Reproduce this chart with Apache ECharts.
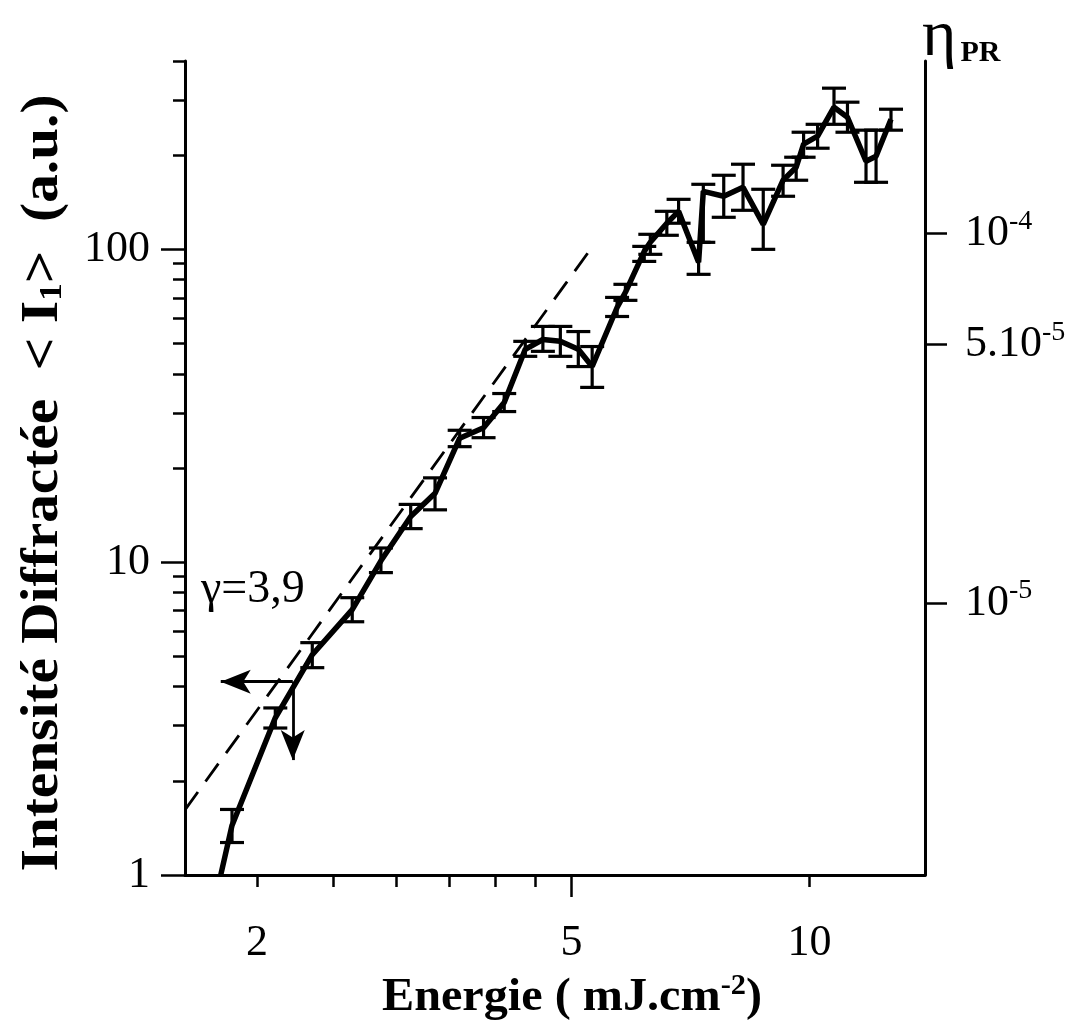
<!DOCTYPE html>
<html><head><meta charset="utf-8">
<script src="https://cdn.jsdelivr.net/npm/echarts@6/dist/echarts.min.js"></script>
<style>html,body{margin:0;padding:0;background:#fff}#c{width:1073px;height:1023px}</style>
</head><body><div id="c"></div>
<script>
// ---- data ----
const energy    = [1.80,1.86,2.11,2.35,2.64,2.87,3.13,3.36,3.61,3.87,4.11,4.37,4.60,4.84,5.10,5.31,5.71,5.85,6.18,6.29,6.60,6.83,7.24,7.34,7.79,8.24,8.74,9.26,9.62,9.83,10.24,10.74,11.17,11.79,12.14,12.68];
const intensity = [1.00,1.44,3.18,5.06,7.05,10.1,14.0,16.6,24.9,26.9,32.4,47.9,51.5,50.8,47.9,42.2,65.2,72.9,98.5,105.3,121.2,132.3,90.9,153.3,147.8,157.9,120.2,166.3,183,216.8,230,284.7,264.5,191.2,198.5,260.6];
const errLow    = [null,1.27,2.95,4.60,6.45,9.26,12.8,14.7,23.4,25.0,30.3,45.5,47.2,45.5,42.2,36.2,61.0,68.7,91.5,96.4,110.9,121.2,83.2,105.3,126.6,133.3,100,147.8,166.3,197,210.5,251,236.8,163.8,163.8,240.4];
const errHigh   = [null,1.62,3.42,5.53,7.70,11.1,15.3,18.6,26.4,29.0,34.6,50.8,56.7,56.7,54.6,48.9,70.2,77.3,102.2,111.7,132.3,144.5,105.3,161.4,172.5,187.1,155.6,185.7,197,236.8,251,327.5,295.4,240.4,240.4,280.5];

const fitEnergy    = [1.622, 5.25];   // dashed power-law guide (gamma = 3.9)
const fitIntensity = [1.615, 97.8];

const arrowCorner = [2.22, 4.15];
const arrowLeftEnd = [1.80, 4.15];
const arrowDownEnd = [2.22, 2.33];

const xRange = [1.622, 14.0];
const yRange = [1, 400];
const etaRange = [1.84e-6, 2.92e-4];

const xLabelValues = [2, 5, 10];
const xMajorTicks = [5];
const xMinorTicks = [2, 2.5, 3, 3.5, 4, 4.5, 10];
const yLabelValues = [1, 10, 100];
const yMinorTicks = [2,3,4,5,6,7,8,9,20,30,40,50,60,70,80,90,200,300,400];
const etaTickValues = [1e-5, 5e-5, 1e-4];
const etaTickMant = ['10', '5.10', '10'];
const etaTickExp  = ['-5', '-5', '-4'];

// ---- chart ----
const FONT = '"Liberation Serif", "Times New Roman", serif';
const chart = echarts.init(document.getElementById('c'), null, {renderer: 'canvas'});

const curve = energy.map((e, i) => [e, intensity[i]]);
const bars = [];
energy.forEach((e, i) => { if (errLow[i] != null) bars.push([e, intensity[i], errLow[i], errHigh[i]]); });
const fit = fitEnergy.map((e, i) => [e, fitIntensity[i]]);

function measure(text, font) {
  const c = document.createElement('canvas').getContext('2d');
  c.font = font; return c.measureText(text).width;
}
const yTitleFont = 'bold 52px ' + FONT;
const ySubFont = 'bold 32px ' + FONT;
const yTitleW = measure('Intensité Diffractée  < I', yTitleFont) + measure('1', ySubFont) + measure('>  (a.u.)', yTitleFont);
const yTitleScale = 777 / yTitleW;
const xTitleFont = 'bold 46px ' + FONT;
const xSubFont = 'bold 29px ' + FONT;
const xTitleW = measure('Energie ( mJ.cm', xTitleFont) + measure('-2', xSubFont) + measure(')', xTitleFont);
const xTitleScale = 380 / xTitleW;

const axisLine = {show: true, lineStyle: {color: '#000', width: 3}};
const baseLog = {type: 'log', logBase: 10, splitLine: {show: false}};

const option = {
  animation: false,
  backgroundColor: '#fff',
  grid: {left: 185, right: 148, top: 61, bottom: 148, containLabel: false, outerBoundsMode: 'none'},
  xAxis: [
    Object.assign({}, baseLog, {
      min: xRange[0], max: xRange[1], position: 'bottom',
      axisLine: axisLine,
      axisTick: {show: true, customValues: xMajorTicks, length: 22, lineStyle: {color: '#000', width: 2.5}},
      axisLabel: {show: true, customValues: xLabelValues, margin: 46, color: '#000',
        fontFamily: FONT, fontSize: 44, formatter: v => String(Math.round(v * 10) / 10)}
    }),
    Object.assign({}, baseLog, {
      min: xRange[0], max: xRange[1], position: 'bottom',
      axisLine: {show: false},
      axisTick: {show: true, customValues: xMinorTicks, length: 12, lineStyle: {color: '#000', width: 2.5}},
      axisLabel: {show: false}
    })
  ],
  yAxis: [
    Object.assign({}, baseLog, {
      min: yRange[0], max: yRange[1], position: 'left',
      axisLine: axisLine,
      axisTick: {show: true, customValues: yLabelValues, length: 24, lineStyle: {color: '#000', width: 2.5}},
      axisLabel: {show: true, customValues: yLabelValues, margin: 35, color: '#000',
        fontFamily: FONT, fontSize: 44, formatter: v => String(Math.round(v))}
    }),
    Object.assign({}, baseLog, {
      min: yRange[0], max: yRange[1], position: 'left',
      axisLine: {show: false},
      axisTick: {show: true, customValues: yMinorTicks, length: 12, lineStyle: {color: '#000', width: 2.5}},
      axisLabel: {show: false}
    }),
    Object.assign({}, baseLog, {
      min: etaRange[0], max: etaRange[1], position: 'right',
      axisLine: axisLine,
      axisTick: {show: true, customValues: etaTickValues, length: 22, lineStyle: {color: '#000', width: 2.5}},
      axisLabel: {show: true, customValues: etaTickValues, margin: 40, color: '#000',
        fontFamily: FONT, fontSize: 44,
        formatter: v => {
          let best = 0, bd = Infinity;
          etaTickValues.forEach((t, i) => { const d = Math.abs(Math.log10(t) - Math.log10(v)); if (d < bd) { bd = d; best = i; } });
          return '{n|' + etaTickMant[best] + '}{s|' + etaTickExp[best] + '}';
        },
        rich: {
          n: {fontFamily: FONT, fontSize: 44, color: '#000'},
          s: {fontFamily: FONT, fontSize: 28, color: '#000', padding: [0, 0, 24, 0]}
        }
      }
    })
  ],
  series: [
    {
      type: 'line', name: 'fit', xAxisIndex: 0, yAxisIndex: 0, data: fit,
      showSymbol: false, symbol: 'none', silent: true,
      lineStyle: {color: '#000', width: 2.8, type: [22, 13]}
    },
    {
      type: 'line', name: 'I1', xAxisIndex: 0, yAxisIndex: 0, data: curve,
      showSymbol: false, symbol: 'none', silent: true,
      lineStyle: {color: '#000', width: 5.5}, z: 3,
      markLine: {
        silent: true, symbol: ['none', 'arrow'], symbolSize: [18, 30],
        label: {show: false},
        lineStyle: {color: '#000', width: 2.8, type: 'solid'},
        data: [
          [{coord: arrowCorner}, {coord: arrowLeftEnd}],
          [{coord: arrowCorner}, {coord: arrowDownEnd}]
        ]
      }
    },
    {
      type: 'custom', name: 'err', xAxisIndex: 0, yAxisIndex: 0, data: bars,
      encode: {x: 0, y: 1}, silent: true, z: 4,
      renderItem: (params, api) => {
        const x = api.value(0);
        const lo = api.coord([x, api.value(2)]);
        const hi = api.coord([x, api.value(3)]);
        const hw = 12;
        const st = {stroke: '#000', lineWidth: 3.2};
        return {type: 'group', children: [
          {type: 'line', shape: {x1: lo[0], y1: lo[1], x2: hi[0], y2: hi[1]}, style: st},
          {type: 'line', shape: {x1: lo[0] - hw, y1: lo[1], x2: lo[0] + hw, y2: lo[1]}, style: st},
          {type: 'line', shape: {x1: hi[0] - hw, y1: hi[1], x2: hi[0] + hw, y2: hi[1]}, style: st}
        ]};
      }
    }
  ],
  graphic: [
    {
      type: 'text', x: 44, y: 483, rotation: Math.PI / 2, scaleX: yTitleScale, scaleY: 1,
      style: {
        text: '{a|Intensité Diffractée  < I}{b|1}{a|>  (a.u.)}',
        rich: {
          a: {font: yTitleFont, fill: '#000'},
          b: {font: ySubFont, fill: '#000', padding: [18, 0, 0, 0]}
        },
        align: 'center', verticalAlign: 'middle'
      }
    },
    {
      type: 'text', x: 572, y: 998, scaleX: xTitleScale,
      style: {
        text: '{a|Energie ( mJ.cm}{b|-2}{a|)}',
        rich: {
          a: {font: xTitleFont, fill: '#000'},
          b: {font: xSubFont, fill: '#000', padding: [0, 0, 22, 0]}
        },
        align: 'center', verticalAlign: 'middle'
      }
    },
    {
      type: 'text', x: 201, y: 590,
      style: {text: 'γ=3,9', font: '46px ' + FONT, fill: '#000', align: 'left', verticalAlign: 'middle'}
    },
    {
      type: 'text', x: 922, y: 38,
      style: {
        text: '{e|η}{p|PR}',
        rich: {
          e: {font: '66px ' + FONT, fill: '#000'},
          p: {font: 'bold 30px ' + FONT, fill: '#000', padding: [30, 0, 0, 4]}
        },
        align: 'left', verticalAlign: 'middle'
      }
    }
  ]
};
chart.setOption(option);
</script>
</body></html>
